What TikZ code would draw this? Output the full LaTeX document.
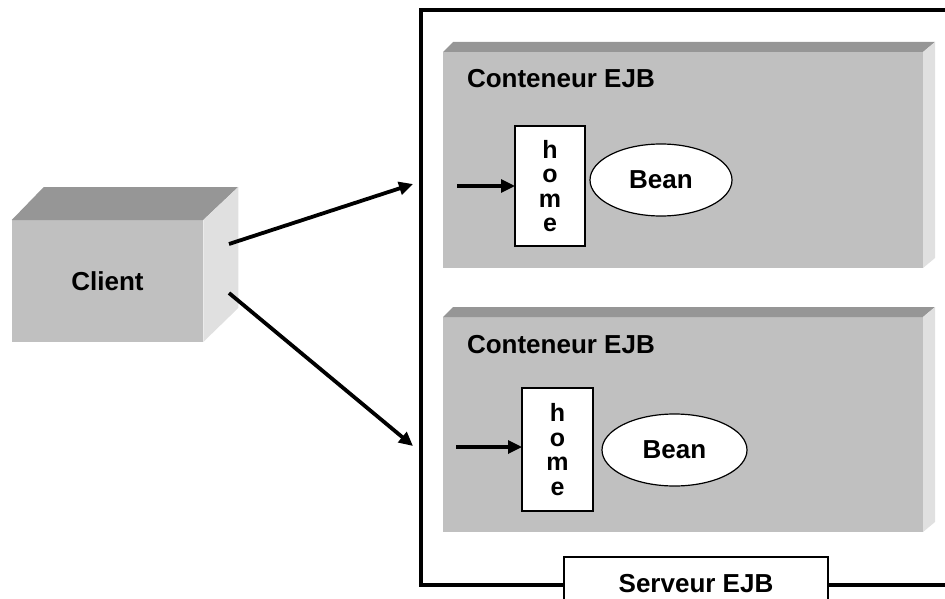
\documentclass[tikz,border=0pt]{standalone}
\usepackage{fontspec}
\setmainfont{Liberation Sans}
\usetikzlibrary{arrows.meta,shapes.geometric}
\definecolor{facefront}{HTML}{C0C0C0}
\definecolor{facetop}{HTML}{969696}
\definecolor{faceside}{HTML}{E0E0E0}

\begin{document}
\begin{tikzpicture}[x=1pt,y=-1pt,
  lbl/.style={font=\fontsize{26}{24.5}\selectfont\bfseries, inner sep=0pt, outer sep=0pt},
  front/.style={fill=facefront, inner sep=0pt, outer sep=0pt},
  homebox/.style={draw=black, line width=1.2pt, fill=white, inner sep=0pt, outer sep=0pt,
                  align=center, font=\fontsize{25}{24.5}\selectfont\bfseries},
  bean/.style={ellipse, draw=black, line width=1.2pt, fill=white, inner sep=0pt, outer sep=0pt,
               font=\fontsize{26}{30}\selectfont\bfseries},
  frame/.style={line width=4pt},
  call/.style={line width=3.8pt, -{Triangle[length=14pt,width=13pt]}},
  entry/.style={line width=3.2pt, -{Triangle[length=14pt,width=13pt]}}]
\useasboundingbox (0,0) rectangle (945,599);
\clip (0,0) rectangle (945,599);

% client cube
\node[front, minimum width=191.5pt, minimum height=122pt, lbl] (client) at (107.5,281) {Client};
\fill[facetop] (client.north west) -- ++(32,-33) -- ([shift={(35,-33)}]client.north east) -- (client.north east) -- cycle;
\fill[faceside] (client.north east) -- ++(35,-33) -- ([shift={(35,-34)}]client.south east) -- (client.south east) -- cycle;

% EJB containers (slabs)
\foreach \n/\cy/\h in {c1/160/216, c2/424.5/215} {
  \node[front, minimum width=480pt, minimum height=\h pt] (\n) at (683,\cy) {};
  \fill[facetop] (\n.north west) -- ++(10,-10) -- ([shift={(12,-10)}]\n.north east) -- (\n.north east) -- cycle;
  \fill[faceside] (\n.north east) -- ++(12,-10) -- ([shift={(12,-10)}]\n.south east) -- (\n.south east) -- cycle;
}
\node[lbl, anchor=base west] (c1lbl) at ([shift={(24,36)}]c1.north west) {Conteneur EJB};
\node[lbl, anchor=base west] (c2lbl) at ([shift={(24,36)}]c2.north west) {Conteneur EJB};

% home interfaces and beans
\node[homebox, minimum width=70pt, minimum height=120pt] (home1) at (550,186) {h\\o\\m\\e};
\node[homebox, minimum width=71pt, minimum height=123pt] (home2) at (557.5,449.5) {h\\o\\m\\e};
\node[bean, minimum width=142pt, minimum height=72pt] (bean1) at (661,180) {Bean};
\node[bean, minimum width=145pt, minimum height=72pt] (bean2) at (674.5,450) {Bean};

\coordinate (in1) at (457,186);
\coordinate (in2) at (456,447);
\draw[entry] (in1) -- (in1 -| home1.west);
\draw[entry] (in2) -- (in2 -| home2.west);

% server frame
\coordinate (ftl) at (420.5,10.5);
\coordinate (fbl) at (420.5,585);
\node[draw=black, line width=1.5pt, fill=white, minimum width=264pt, minimum height=70pt,
      anchor=north, inner sep=0pt] (srv) at (696,556) {};
\draw[frame] (945,10.5) -- (ftl) -- (fbl) -- (fbl -| srv.west);
\draw[frame] (fbl -| srv.east) -- (945,585);
\node[lbl, anchor=base] (srvlbl) at (696,592) {Serveur EJB};

% calls from the client
\coordinate (s1) at (229,244);
\coordinate (s2) at (229,293);
\coordinate (t1) at (413,184);
\coordinate (t2) at (413,446);
\draw[call] (s1) -- (t1);
\draw[call] (s2) -- (t2);
\end{tikzpicture}
\end{document}
